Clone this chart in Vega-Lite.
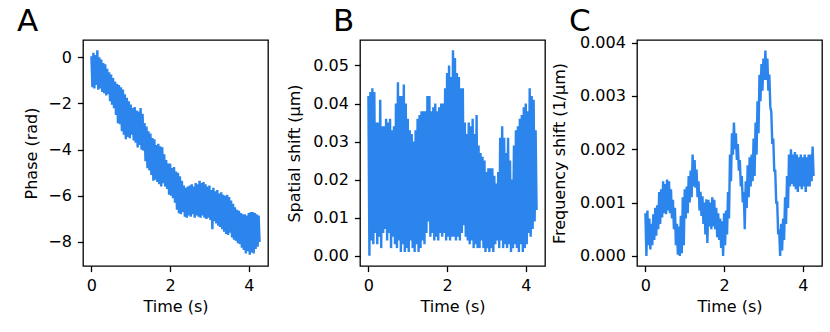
{
"$schema":"https://vega.github.io/schema/vega-lite/v6.json",
"padding":{"left":16,"top":4,"right":0,"bottom":0},
"background":"white",
"data":{"values":[
{"t":0,"a":0.05,"b":0.042,"c":0.0008},{"t":0.025,"a":-1.3,"b":0.0,"c":0.0},
{"t":0.05,"a":0.2,"b":0.043,"c":0.00085},{"t":0.075,"a":-1.35,"b":0.004,"c":0.0002},
{"t":0.1,"a":0.1,"b":0.044,"c":0.0007},{"t":0.125,"a":-1.2,"b":0.003,"c":0.00012},
{"t":0.15,"a":0.3,"b":0.043,"c":0.0006},{"t":0.175,"a":-1.4,"b":0.006,"c":0.0002},
{"t":0.2,"a":0.0,"b":0.035,"c":0.00078},{"t":0.225,"a":-1.35,"b":0.003,"c":0.0003},
{"t":0.25,"a":-0.1,"b":0.035,"c":0.0009},{"t":0.275,"a":-1.5,"b":0.005,"c":0.00038},
{"t":0.3,"a":-0.25,"b":0.041,"c":0.00095},{"t":0.325,"a":-1.55,"b":0.002,"c":0.0005},
{"t":0.35,"a":-0.3,"b":0.034,"c":0.0012},{"t":0.375,"a":-1.65,"b":0.006,"c":0.0006},
{"t":0.4,"a":-0.5,"b":0.034,"c":0.00125},{"t":0.425,"a":-1.6,"b":0.007,"c":0.00072},
{"t":0.45,"a":-0.65,"b":0.036,"c":0.0014},{"t":0.475,"a":-1.9,"b":0.004,"c":0.0008},
{"t":0.5,"a":-0.75,"b":0.035,"c":0.00135},{"t":0.525,"a":-2.05,"b":0.006,"c":0.00078},
{"t":0.55,"a":-0.9,"b":0.036,"c":0.00143},{"t":0.575,"a":-2.2,"b":0.002,"c":0.00085},
{"t":0.6,"a":-1.05,"b":0.033,"c":0.0014},{"t":0.625,"a":-2.5,"b":0.005,"c":0.0008},
{"t":0.65,"a":-1.15,"b":0.034,"c":0.00125},{"t":0.675,"a":-2.85,"b":0.003,"c":0.0007},
{"t":0.7,"a":-1.2,"b":0.04,"c":0.00105},{"t":0.725,"a":-2.9,"b":0.002,"c":0.0005},
{"t":0.75,"a":-1.3,"b":0.0456,"c":0.0009},{"t":0.775,"a":-3.2,"b":0.004,"c":0.0002},
{"t":0.8,"a":-1.4,"b":0.042,"c":0.0006},{"t":0.825,"a":-3.35,"b":0.001,"c":0.00002},
{"t":0.85,"a":-1.6,"b":0.042,"c":0.00055},{"t":0.875,"a":-3.55,"b":0.003,"c":0.0},
{"t":0.9,"a":-1.75,"b":0.045,"c":0.00075},{"t":0.925,"a":-3.45,"b":0.001,"c":0.00005},
{"t":0.95,"a":-1.9,"b":0.04,"c":0.0011},{"t":0.975,"a":-3.5,"b":0.002,"c":0.0002},
{"t":1.0,"a":-2.05,"b":0.036,"c":0.00125},{"t":1.025,"a":-3.35,"b":0.001,"c":0.0007},
{"t":1.05,"a":-2.2,"b":0.033,"c":0.0013},{"t":1.075,"a":-3.6,"b":0.004,"c":0.0008},
{"t":1.1,"a":-2.15,"b":0.032,"c":0.0015},{"t":1.125,"a":-3.7,"b":0.002,"c":0.001},
{"t":1.15,"a":-2.3,"b":0.03,"c":0.0016},{"t":1.175,"a":-3.9,"b":0.001,"c":0.0011},
{"t":1.2,"a":-2.35,"b":0.033,"c":0.0019},{"t":1.225,"a":-3.8,"b":0.003,"c":0.0013},
{"t":1.25,"a":-2.2,"b":0.036,"c":0.0018},{"t":1.275,"a":-4.0,"b":0.001,"c":0.00128},
{"t":1.3,"a":-2.45,"b":0.037,"c":0.00162},{"t":1.325,"a":-4.05,"b":0.002,"c":0.0011},
{"t":1.35,"a":-2.85,"b":0.038,"c":0.0014},{"t":1.375,"a":-4.5,"b":0.004,"c":0.00085},
{"t":1.4,"a":-3.0,"b":0.038,"c":0.0012},{"t":1.425,"a":-4.8,"b":0.003,"c":0.00075},
{"t":1.45,"a":-3.2,"b":0.038,"c":0.00112},{"t":1.475,"a":-4.9,"b":0.006,"c":0.0006},
{"t":1.5,"a":-3.3,"b":0.042,"c":0.001},{"t":1.525,"a":-5.1,"b":0.009,"c":0.0004},
{"t":1.55,"a":-3.5,"b":0.042,"c":0.00106},{"t":1.575,"a":-5.35,"b":0.005,"c":0.00024},
{"t":1.6,"a":-3.55,"b":0.038,"c":0.00105},{"t":1.625,"a":-5.3,"b":0.006,"c":0.00055},
{"t":1.65,"a":-3.8,"b":0.039,"c":0.001},{"t":1.675,"a":-5.4,"b":0.004,"c":0.0005},
{"t":1.7,"a":-3.75,"b":0.04,"c":0.0011},{"t":1.725,"a":-5.5,"b":0.005,"c":0.00055},
{"t":1.75,"a":-3.85,"b":0.038,"c":0.00105},{"t":1.775,"a":-5.6,"b":0.004,"c":0.0005},
{"t":1.8,"a":-3.9,"b":0.039,"c":0.0009},{"t":1.825,"a":-5.45,"b":0.006,"c":0.00035},
{"t":1.85,"a":-4.2,"b":0.04,"c":0.0008},{"t":1.875,"a":-5.6,"b":0.005,"c":0.0003},
{"t":1.9,"a":-4.45,"b":0.04,"c":0.0007},{"t":1.925,"a":-5.7,"b":0.006,"c":0.00015},
{"t":1.95,"a":-4.6,"b":0.044,"c":0.00065},{"t":1.975,"a":-5.95,"b":0.004,"c":0.0},
{"t":2.0,"a":-4.6,"b":0.048,"c":0.0008},{"t":2.025,"a":-6.0,"b":0.005,"c":0.0002},
{"t":2.05,"a":-4.8,"b":0.05,"c":0.00085},{"t":2.075,"a":-6.1,"b":0.004,"c":0.0004},
{"t":2.1,"a":-4.75,"b":0.047,"c":0.0012},{"t":2.125,"a":-6.3,"b":0.005,"c":0.0007},
{"t":2.15,"a":-4.95,"b":0.054,"c":0.0019},{"t":2.175,"a":-6.6,"b":0.005,"c":0.0014},
{"t":2.2,"a":-5.0,"b":0.052,"c":0.0023},{"t":2.225,"a":-6.75,"b":0.004,"c":0.0019},
{"t":2.25,"a":-5.15,"b":0.048,"c":0.0025},{"t":2.275,"a":-6.8,"b":0.005,"c":0.002},
{"t":2.3,"a":-5.35,"b":0.047,"c":0.0023},{"t":2.325,"a":-6.7,"b":0.004,"c":0.0018},
{"t":2.35,"a":-5.55,"b":0.044,"c":0.0021},{"t":2.375,"a":-6.9,"b":0.006,"c":0.0016},
{"t":2.4,"a":-5.65,"b":0.044,"c":0.0018},{"t":2.425,"a":-6.95,"b":0.008,"c":0.0013},
{"t":2.45,"a":-5.6,"b":0.035,"c":0.0015},{"t":2.475,"a":-6.85,"b":0.005,"c":0.001},
{"t":2.5,"a":-5.55,"b":0.032,"c":0.0012},{"t":2.525,"a":-6.9,"b":0.004,"c":0.0005},
{"t":2.55,"a":-5.5,"b":0.035,"c":0.0014},{"t":2.575,"a":-6.8,"b":0.003,"c":0.0009},
{"t":2.6,"a":-5.6,"b":0.034,"c":0.0017},{"t":2.625,"a":-6.95,"b":0.004,"c":0.0011},
{"t":2.65,"a":-5.45,"b":0.036,"c":0.00185},{"t":2.675,"a":-6.85,"b":0.002,"c":0.0013},
{"t":2.7,"a":-5.5,"b":0.032,"c":0.0019},{"t":2.725,"a":-6.9,"b":0.003,"c":0.0014},
{"t":2.75,"a":-5.35,"b":0.037,"c":0.0022},{"t":2.775,"a":-6.95,"b":0.002,"c":0.0015},
{"t":2.8,"a":-5.45,"b":0.029,"c":0.0025},{"t":2.825,"a":-6.85,"b":0.002,"c":0.0019},
{"t":2.85,"a":-5.4,"b":0.027,"c":0.0029},{"t":2.875,"a":-6.95,"b":0.004,"c":0.0023},
{"t":2.9,"a":-5.5,"b":0.026,"c":0.0034},{"t":2.925,"a":-7.0,"b":0.002,"c":0.0029},
{"t":2.95,"a":-5.6,"b":0.025,"c":0.0036},{"t":2.975,"a":-6.95,"b":0.001,"c":0.0031},
{"t":3.0,"a":-5.55,"b":0.022,"c":0.0037},{"t":3.025,"a":-7.05,"b":0.002,"c":0.0033},
{"t":3.05,"a":-5.75,"b":0.023,"c":0.00385},{"t":3.075,"a":-7.45,"b":0.001,"c":0.0033},
{"t":3.1,"a":-5.65,"b":0.023,"c":0.0037},{"t":3.125,"a":-7.1,"b":0.002,"c":0.0031},
{"t":3.15,"a":-5.8,"b":0.023,"c":0.0034},{"t":3.175,"a":-7.2,"b":0.001,"c":0.0028},
{"t":3.2,"a":-5.75,"b":0.021,"c":0.0027},{"t":3.225,"a":-7.3,"b":0.003,"c":0.0021},
{"t":3.25,"a":-5.9,"b":0.019,"c":0.0022},{"t":3.275,"a":-7.35,"b":0.004,"c":0.0016},
{"t":3.3,"a":-5.85,"b":0.022,"c":0.0016},{"t":3.325,"a":-7.45,"b":0.002,"c":0.001},
{"t":3.35,"a":-5.95,"b":0.031,"c":0.001},{"t":3.375,"a":-7.55,"b":0.004,"c":0.0004},
{"t":3.4,"a":-6.0,"b":0.034,"c":0.0005},{"t":3.425,"a":-7.65,"b":0.002,"c":0.0},
{"t":3.45,"a":-5.95,"b":0.031,"c":0.0006},{"t":3.475,"a":-7.7,"b":0.003,"c":0.0001},
{"t":3.5,"a":-6.05,"b":0.027,"c":0.0007},{"t":3.525,"a":-7.6,"b":0.002,"c":0.0003},
{"t":3.55,"a":-6.2,"b":0.031,"c":0.0011},{"t":3.575,"a":-7.8,"b":0.003,"c":0.0006},
{"t":3.6,"a":-6.35,"b":0.025,"c":0.0015},{"t":3.625,"a":-7.9,"b":0.001,"c":0.0009},
{"t":3.65,"a":-6.5,"b":0.02,"c":0.0019},{"t":3.675,"a":-7.95,"b":0.002,"c":0.0013},
{"t":3.7,"a":-6.6,"b":0.029,"c":0.002},{"t":3.725,"a":-8.05,"b":0.003,"c":0.00135},
{"t":3.75,"a":-6.65,"b":0.033,"c":0.0019},{"t":3.775,"a":-8.1,"b":0.002,"c":0.0013},
{"t":3.8,"a":-6.75,"b":0.034,"c":0.00195},{"t":3.825,"a":-8.25,"b":0.001,"c":0.00125},
{"t":3.85,"a":-6.8,"b":0.036,"c":0.0019},{"t":3.875,"a":-8.35,"b":0.003,"c":0.0012},
{"t":3.9,"a":-6.8,"b":0.037,"c":0.00185},{"t":3.925,"a":-8.5,"b":0.001,"c":0.0013},
{"t":3.95,"a":-6.85,"b":0.039,"c":0.0019},{"t":3.975,"a":-8.4,"b":0.002,"c":0.00125},
{"t":4.0,"a":-6.75,"b":0.04,"c":0.00185},{"t":4.025,"a":-8.55,"b":0.003,"c":0.0013},
{"t":4.05,"a":-6.7,"b":0.038,"c":0.0019},{"t":4.075,"a":-8.45,"b":0.006,"c":0.0012},
{"t":4.1,"a":-6.7,"b":0.044,"c":0.00185},{"t":4.125,"a":-8.5,"b":0.005,"c":0.0013},
{"t":4.15,"a":-6.75,"b":0.042,"c":0.0019},{"t":4.175,"a":-8.3,"b":0.007,"c":0.0013},
{"t":4.2,"a":-6.8,"b":0.041,"c":0.0019},{"t":4.225,"a":-8.2,"b":0.009,"c":0.0014},
{"t":4.25,"a":-6.85,"b":0.033,"c":0.00205},{"t":4.275,"a":-8.0,"b":0.012,"c":0.0015}
]},
"hconcat":[
{"width":185,"height":226,
 "title":{"text":"A","dx":-66,"offset":2.5},
 "mark":{"type":"line"},
 "encoding":{
  "x":{"field":"t","type":"quantitative","scale":{"domain":[-0.214,4.489],"nice":false,"zero":false},"axis":{"values":[0,2,4],"format":"d","title":"Time (s)"}},
  "y":{"field":"a","type":"quantitative","scale":{"domain":[-9.04,0.75],"nice":false,"zero":false},"axis":{"values":[-8,-6,-4,-2,0],"format":"d","title":"Phase (rad)","titlePadding":8}}
 }},
{"width":185,"height":226,
 "title":{"text":"B","dx":-27,"offset":2.5},
 "mark":{"type":"line"},
 "encoding":{
  "x":{"field":"t","type":"quantitative","scale":{"domain":[-0.214,4.489],"nice":false,"zero":false},"axis":{"values":[0,2,4],"format":"d","title":"Time (s)"}},
  "y":{"field":"b","type":"quantitative","scale":{"domain":[-0.0027,0.0567],"nice":false,"zero":false},"axis":{"values":[0,0.01,0.02,0.03,0.04,0.05],"format":".2f","title":"Spatial shift (μm)","titlePadding":10.5}}
 }},
{"width":185,"height":226,
 "title":{"text":"C","dx":-68,"offset":-3.5},
 "mark":{"type":"line"},
 "encoding":{
  "x":{"field":"t","type":"quantitative","scale":{"domain":[-0.214,4.489],"nice":false,"zero":false},"axis":{"values":[0,2,4],"format":"d","title":"Time (s)"}},
  "y":{"field":"c","type":"quantitative","scale":{"domain":[-0.00019,0.00405],"nice":false,"zero":false},"axis":{"values":[0,0.001,0.002,0.003,0.004],"format":".3f","title":"Frequency shift (1/μm)","titlePadding":12}}
 }}
],
"spacing":92,
"bounds":"flush",
"config":{
 "view":{"stroke":"black","strokeWidth":1.3},
 "axis":{"grid":false,"domain":false,"tickColor":"black","tickWidth":1.3,"tickSize":5.6,"labelFont":"DejaVu Sans","labelFontSize":16,"labelColor":"black","labelPadding":6,"labelFlush":false,"labelOverlap":false,"titleFont":"DejaVu Sans","titleFontSize":16,"titleFontWeight":"normal","titleColor":"black"},
 "axisX":{"titlePadding":5.3},
 "title":{"font":"DejaVu Sans","fontSize":31,"fontWeight":"normal","anchor":"start","frame":"group","color":"black","baseline":"alphabetic"},
 "line":{"color":"#2b85ec","strokeWidth":2.4}
}
}
